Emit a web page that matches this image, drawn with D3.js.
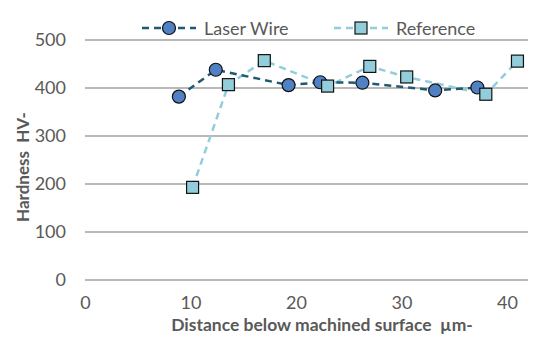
<!DOCTYPE html>
<html>
<head>
<meta charset="utf-8">
<script src="https://cdn.jsdelivr.net/npm/d3@7"></script>
<style>
  body { margin: 0; background: #fff; }
  text { font-family: Lato, "Open Sans", sans-serif; fill: #595959; white-space: pre; }
</style>
</head>
<body>
<div id="chart"></div>
<script>
// data
var laserX = [8.9, 12.4, 19.3, 22.3, 26.3, 33.2, 37.2];
var laserY = [382, 438, 406, 412, 411, 395, 401];
var refX = [10.2, 13.6, 17.0, 23.0, 27.0, 30.5, 38.0, 41.0];
var refY = [193, 407, 457, 404, 445, 423, 387, 456];
var xTicks = [0, 10, 20, 30, 40];
var yTicks = [0, 100, 200, 300, 400, 500];
var seriesNames = ["Laser Wire", "Reference"];

var svgWidth = 550;
var svgHeight = 345;

var margin = { top: 40, right: 22, bottom: 65, left: 85 };
var width = svgWidth - margin.left - margin.right;
var height = svgHeight - margin.top - margin.bottom;

var svg = d3.select("#chart")
  .append("svg")
  .attr("width", svgWidth)
  .attr("height", svgHeight);

var chartGroup = svg.append("g")
  .attr("transform", `translate(${margin.left}, ${margin.top})`);

var xScale = d3.scaleLinear().domain([0, 42]).range([0, width]);
var yScale = d3.scaleLinear().domain([0, 500]).range([height, 0]);

// gridlines
chartGroup.append("g")
  .selectAll("line")
  .data(yTicks)
  .enter()
  .append("line")
  .attr("x1", 0)
  .attr("x2", width)
  .attr("y1", d => yScale(d))
  .attr("y2", d => yScale(d))
  .attr("stroke", "#a0a0a0")
  .attr("stroke-width", 1.5);

// y tick labels
var leftAxis = d3.axisLeft(yScale).tickValues(yTicks).tickSize(0).tickPadding(19);
var yAxis = chartGroup.append("g").call(leftAxis);
yAxis.select(".domain").remove();
yAxis.selectAll("text")
  .attr("font-size", 18)
  .attr("fill", "#595959")
  .style("font-family", "Lato, 'Open Sans', sans-serif");

// x tick labels
var bottomAxis = d3.axisBottom(xScale).tickValues(xTicks).tickSize(0).tickPadding(16);
var xAxis = chartGroup.append("g")
  .attr("transform", `translate(0, ${height})`)
  .call(bottomAxis);
xAxis.select(".domain").remove();
xAxis.selectAll("text")
  .attr("font-size", 18)
  .attr("fill", "#595959")
  .style("font-family", "Lato, 'Open Sans', sans-serif");

// lines
var laserData = laserX.map((x, i) => ({ x: x, y: laserY[i] }));
var refData = refX.map((x, i) => ({ x: x, y: refY[i] }));

var line = d3.line().x(d => xScale(d.x)).y(d => yScale(d.y));

var laserColor = "#1f5a73";
var laserFill = "#4f81c4";
var refColor = "#92cddc";

chartGroup.append("path")
  .datum(refData)
  .attr("d", line)
  .attr("fill", "none")
  .attr("stroke", refColor)
  .attr("stroke-width", 2.5)
  .attr("stroke-dasharray", "7,5");

chartGroup.append("path")
  .datum(laserData)
  .attr("d", line)
  .attr("fill", "none")
  .attr("stroke", laserColor)
  .attr("stroke-width", 2.5)
  .attr("stroke-dasharray", "7,5");

// markers
chartGroup.selectAll(".laserDot")
  .data(laserData)
  .enter()
  .append("circle")
  .attr("class", "laserDot")
  .attr("cx", d => xScale(d.x))
  .attr("cy", d => yScale(d.y))
  .attr("r", 6.5)
  .attr("fill", laserFill)
  .attr("stroke", "#111")
  .attr("stroke-width", 1.2);

var sq = 12;
chartGroup.selectAll(".refSquare")
  .data(refData)
  .enter()
  .append("rect")
  .attr("class", "refSquare")
  .attr("x", d => xScale(d.x) - sq / 2)
  .attr("y", d => yScale(d.y) - sq / 2)
  .attr("width", sq)
  .attr("height", sq)
  .attr("fill", refColor)
  .attr("stroke", "#111")
  .attr("stroke-width", 1.2);

// legend
var legend = svg.append("g");
var lg1 = legend.append("g").attr("transform", "translate(140, 28)");
lg1.append("line")
  .attr("x1", 0).attr("x2", 56).attr("y1", 0).attr("y2", 0)
  .attr("stroke", laserColor).attr("stroke-width", 2.5)
  .attr("stroke-dasharray", "7,5").attr("stroke-dashoffset", -2);
lg1.append("circle")
  .attr("cx", 29).attr("cy", 0).attr("r", 6.5)
  .attr("fill", laserFill).attr("stroke", "#111").attr("stroke-width", 1.2);
lg1.append("text")
  .attr("x", 64).attr("y", 6.5)
  .attr("font-size", 18)
  .text(seriesNames[0]);

var lg2 = legend.append("g").attr("transform", "translate(332, 28)");
lg2.append("line")
  .attr("x1", 0).attr("x2", 56).attr("y1", 0).attr("y2", 0)
  .attr("stroke", refColor).attr("stroke-width", 2.5)
  .attr("stroke-dasharray", "7,5").attr("stroke-dashoffset", -2);
lg2.append("rect")
  .attr("x", 29 - sq / 2).attr("y", -sq / 2).attr("width", sq).attr("height", sq)
  .attr("fill", refColor).attr("stroke", "#111").attr("stroke-width", 1.2);
lg2.append("text")
  .attr("x", 64).attr("y", 6.5)
  .attr("font-size", 18)
  .text(seriesNames[1]);

// axis titles
svg.append("text")
  .attr("x", 322)
  .attr("y", 331)
  .attr("text-anchor", "middle")
  .attr("font-size", 17.5)
  .attr("font-weight", "bold")
  .text("Distance below machined surface  µm-");

svg.append("text")
  .attr("transform", "translate(29, 167) rotate(-90)")
  .attr("text-anchor", "middle")
  .attr("font-size", 17)
  .attr("font-weight", "bold")
  .text("Hardness  HV-");
</script>
</body>
</html>
